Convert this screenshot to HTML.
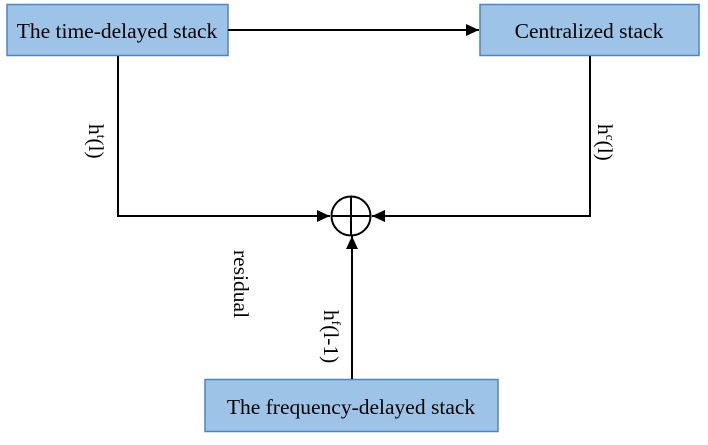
<!DOCTYPE html>
<html><head><style>body{margin:0;background:#fff}</style></head><body>
<svg width="708" height="440" xmlns="http://www.w3.org/2000/svg" font-family="Liberation Serif, serif" font-size="21.5" fill="#000">
<defs><marker id="a" markerWidth="14" markerHeight="12" refX="13" refY="6" orient="auto" markerUnits="userSpaceOnUse"><path d="M0,0 L13,6 L0,12 Z" fill="#000"/></marker></defs>
<rect x="7" y="4.5" width="221" height="51" fill="#9dc3e6" stroke="#4a86c5" stroke-width="1.5"/>
<rect x="480" y="4.5" width="219" height="51" fill="#9dc3e6" stroke="#4a86c5" stroke-width="1.5"/>
<rect x="205" y="379.5" width="293" height="52" fill="#9dc3e6" stroke="#4a86c5" stroke-width="1.5"/>
<text x="117" y="38" text-anchor="middle">The time-delayed stack</text>
<text x="589" y="38" text-anchor="middle">Centralized stack</text>
<text x="351" y="414" text-anchor="middle">The frequency-delayed stack</text>
<g stroke="#000" stroke-width="2" fill="none">
<line x1="228" y1="30" x2="479" y2="30" marker-end="url(#a)"/>
<polyline points="118,56 118,216 330,216" marker-end="url(#a)"/>
<polyline points="590,56 590,216 372,216" marker-end="url(#a)"/>
<line x1="352" y1="379" x2="352" y2="236" marker-end="url(#a)"/>
<circle cx="351" cy="216" r="19.5"/>
<line x1="331.5" y1="216" x2="370.5" y2="216"/>
<line x1="351" y1="196.5" x2="351" y2="235.5"/>
</g>
<text transform="translate(89,124) rotate(90)">h<tspan font-size="13" dy="-8">t</tspan><tspan dy="8">(l)</tspan></text>
<text transform="translate(598,124) rotate(90)">h<tspan font-size="13" dy="-8">c</tspan><tspan dy="8">(l)</tspan></text>
<text transform="translate(234,250) rotate(90)">residual</text>
<text transform="translate(324,310) rotate(90)">h<tspan font-size="13" dy="-8">f</tspan><tspan dy="8">(l-1)</tspan></text>
</svg>
</body></html>
